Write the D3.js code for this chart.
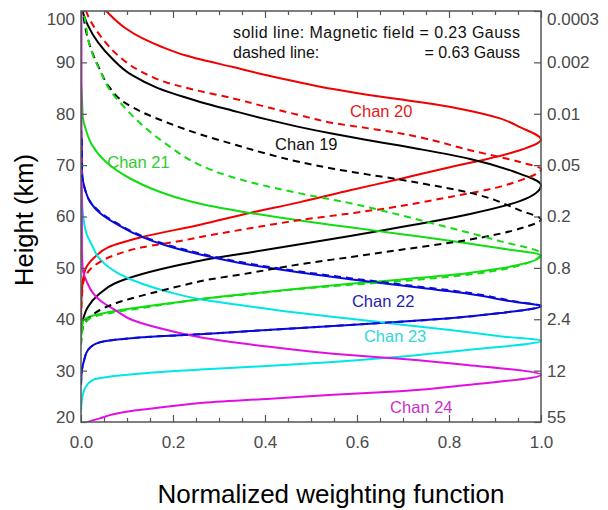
<!DOCTYPE html>
<html>
<head>
<meta charset="utf-8">
<script src="https://cdn.jsdelivr.net/npm/d3@7"></script>
<style>
  html, body { margin: 0; padding: 0; background: #fff; }
  svg { display: block; font-family: "Liberation Sans", Arial, Helvetica, sans-serif; }
</style>
</head>
<body>
<svg id="chart" width="608" height="510"></svg>
<script>
// Height axis (km) and the matching pressure labels on the right axis
const heightTicks = [20, 30, 40, 50, 60, 70, 80, 90, 100];
const pressureLabels = ["55", "12", "2.4", "0.8", "0.2", "0.05", "0.01", "0.002", "0.0003"];
const weightTicks = [0, 0.2, 0.4, 0.6, 0.8, 1.0];
const weightMinorTicks = [0.05, 0.1, 0.15, 0.25, 0.3, 0.35, 0.45, 0.5, 0.55, 0.65, 0.7, 0.75, 0.85, 0.9, 0.95];

// Weighting functions: [height km, normalized weight]
// solid = 0.23 Gauss, dashed = 0.63 Gauss
const chan20Solid = [[39.8,0],[45.7,0.002],[49.6,0.009],[52.1,0.030],[54.0,0.059],[56.0,0.133],[58.4,0.259],[60.7,0.367],[62.8,0.476],[65.1,0.585],[67.3,0.693],[69.6,0.802],[71.2,0.883],[72.9,0.954],[75.0,1.0],[77.4,0.954],[79.1,0.911],[80.7,0.839],[81.9,0.765],[82.8,0.693],[83.7,0.622],[84.8,0.548],[86.1,0.476],[87.5,0.404],[89.1,0.330],[90.6,0.259],[91.4,0.226],[93.0,0.176],[94.7,0.133],[96.7,0.096],[99.8,0.057],[102,0.035]];
const chan20Dashed = [[39.8,0],[46.7,0.004],[48.2,0.009],[50.5,0.030],[52.5,0.074],[54.0,0.133],[55.4,0.226],[56.0,0.259],[57.7,0.367],[59.3,0.476],[60.6,0.585],[62.0,0.693],[62.7,0.737],[63.8,0.802],[65.2,0.883],[67.0,0.954],[69.2,1.0],[70.6,0.954],[72.9,0.846],[75.4,0.737],[76.2,0.693],[77.2,0.622],[78.2,0.548],[79.7,0.476],[81.3,0.404],[83.0,0.330],[84.4,0.259],[86.0,0.189],[88.1,0.133],[91.4,0.080],[94.7,0.046],[98.2,0.020],[100,0.011],[102,0.006]];
const chan19Solid = [[36.9,0],[39.8,0.004],[42.4,0.015],[44.7,0.037],[47.0,0.074],[48.8,0.133],[50.8,0.226],[51.4,0.259],[53.0,0.367],[54.6,0.476],[56.2,0.585],[57.9,0.693],[58.6,0.737],[60.5,0.846],[63.0,0.954],[66.1,1.0],[68.8,0.939],[71.2,0.846],[73.1,0.737],[73.8,0.693],[74.9,0.622],[76.1,0.548],[77.4,0.476],[78.9,0.404],[80.6,0.330],[82.3,0.259],[83.2,0.226],[85.0,0.167],[87.5,0.111],[90.8,0.067],[93.9,0.037],[97.2,0.015],[100,0.003]];
const chan19Dashed = [[35.0,0],[38.5,0.004],[40.4,0.020],[41.8,0.041],[43.7,0.096],[45.1,0.154],[46.7,0.226],[47.4,0.259],[49.0,0.367],[50.7,0.476],[52.1,0.585],[53.5,0.693],[55.4,0.839],[57.8,0.960],[59.4,1.0],[61.2,0.954],[64.6,0.846],[66.5,0.737],[67.2,0.693],[68.2,0.622],[69.3,0.548],[70.6,0.476],[72.2,0.404],[74.1,0.330],[76.0,0.259],[78.3,0.187],[80.3,0.133],[82.1,0.096],[85.5,0.059],[88.6,0.041],[91.6,0.026],[94.6,0.015],[100,0.004]];
const chan21Solid = [[36.0,0],[39.5,0.004],[40.4,0.015],[40.8,0.030],[41.6,0.074],[42.4,0.133],[43.5,0.226],[43.9,0.259],[45.0,0.367],[46.0,0.476],[46.9,0.585],[47.7,0.693],[48.6,0.802],[49.9,0.911],[52.4,1.0],[53.8,0.911],[55.3,0.802],[56.6,0.693],[57.9,0.585],[59.2,0.476],[60.7,0.367],[62.5,0.259],[63.8,0.204],[65.4,0.154],[67.2,0.111],[70.8,0.052],[73.9,0.024],[76.8,0.011],[79.3,0.004],[83.2,0.002],[86.0,0]];
const chan21Dashed = [[35.0,0],[38.5,0.004],[40.2,0.020],[40.8,0.041],[41.4,0.074],[42.2,0.133],[43.5,0.226],[43.9,0.259],[44.9,0.367],[45.9,0.476],[46.7,0.585],[47.4,0.693],[48.3,0.802],[49.6,0.911],[52.8,1.0],[55.2,0.911],[57.8,0.802],[60.3,0.693],[62.6,0.585],[64.5,0.476],[66.7,0.367],[68.0,0.317],[70.0,0.259],[74.0,0.187],[77.8,0.133],[81.1,0.096],[84.6,0.063],[88.5,0.041],[91.4,0.026],[94.7,0.015],[98.2,0.009],[100,0.004]];
const chan22Solid = [[27.2,0],[30.1,0.002],[32.1,0.007],[34.0,0.015],[35.4,0.037],[36.0,0.074],[36.5,0.133],[37.1,0.259],[37.7,0.367],[38.3,0.476],[38.9,0.585],[39.5,0.693],[40.2,0.802],[41.2,0.911],[42.6,1.0],[43.3,0.948],[45.0,0.839],[46.6,0.693],[47.8,0.585],[49.1,0.476],[50.6,0.367],[52.6,0.259],[54.3,0.187],[55.4,0.150],[56.8,0.113],[58.5,0.078],[60.7,0.041],[62.8,0.020],[65.2,0.009],[69.0,0.002],[72.9,0.002],[76.8,0]];
const chan22Dashed = [[27.2,0],[30.1,0.002],[32.1,0.007],[34.0,0.015],[35.4,0.037],[36.0,0.074],[36.5,0.133],[37.1,0.259],[37.7,0.367],[38.3,0.476],[38.9,0.585],[39.5,0.693],[40.2,0.802],[41.2,0.911],[42.6,1.0],[43.4,0.948],[45.2,0.839],[46.8,0.693],[48.0,0.585],[49.3,0.476],[50.8,0.367],[52.8,0.259],[54.5,0.187],[55.6,0.150],[57.0,0.113],[58.7,0.078],[60.9,0.041],[62.9,0.020],[65.2,0.009],[69.0,0.002],[72.9,0.002],[76.8,0]];
const chan23Solid = [[21.9,0],[24.3,0.002],[26.6,0.009],[28.2,0.026],[29.0,0.078],[29.6,0.150],[30.2,0.259],[30.9,0.404],[31.7,0.548],[32.7,0.693],[34.0,0.839],[35.8,1.0],[36.7,0.911],[37.9,0.802],[39.0,0.693],[40.1,0.585],[41.2,0.476],[42.5,0.367],[43.9,0.259],[45.4,0.187],[46.9,0.133],[49.0,0.080],[51.7,0.041],[54.4,0.024],[56.4,0.013],[60.7,0.004],[63.2,0.002],[69.0,0]];
const chan24Solid = [[19.0,0.005],[20.0,0.015],[20.7,0.041],[21.5,0.070],[22.3,0.120],[22.9,0.180],[23.7,0.259],[24.5,0.404],[25.3,0.548],[26.0,0.693],[27.2,0.839],[29.2,1.0],[31.1,0.839],[32.3,0.693],[33.3,0.548],[34.7,0.404],[36.5,0.259],[37.9,0.187],[39.8,0.113],[41.6,0.078],[43.7,0.041],[45.1,0.026],[47.2,0.013],[49.6,0.004],[53.5,0.002],[57.4,0.002],[80,0.001],[100,0.001]];

// ---- drawing ----
const svg = d3.select("#chart");
svg.append("rect").attr("width", 608).attr("height", 510).attr("fill", "#fff");

const x = d3.scaleLinear().domain([0, 1]).range([81, 541]);
const y = d3.scaleLinear().domain([20, 100]).range([422, 11]);

const axisColor = "#555";
const labelColor = "#4a4a4a";

svg.append("clipPath").attr("id", "plotClip")
  .append("rect").attr("x", x(0)).attr("y", y(100))
  .attr("width", x(1) - x(0) + 1).attr("height", y(20) - y(100));

const series = [
  { data: chan20Solid, color: "#f00000", dashed: false },
  { data: chan19Solid, color: "#000000", dashed: false },
  { data: chan21Solid, color: "#10dd10", dashed: false },
  { data: chan22Solid, color: "#0a0ad8", dashed: false },
  { data: chan23Solid, color: "#00e6e6", dashed: false },
  { data: chan24Solid, color: "#e010e0", dashed: false },
  { data: chan20Dashed, color: "#f00000", dashed: true },
  { data: chan19Dashed, color: "#000000", dashed: true },
  { data: chan21Dashed, color: "#10dd10", dashed: true },
  { data: chan22Dashed, color: "#0a0ad8", dashed: true }
];

const line = d3.line()
  .x(d => x(d[1]))
  .y(d => y(d[0]))
  .curve(d3.curveMonotoneY);

const curves = svg.append("g").attr("clip-path", "url(#plotClip)");
curves.selectAll("path")
  .data(series)
  .join("path")
  .attr("d", d => line(d.data))
  .attr("fill", "none")
  .attr("stroke", d => d.color)
  .attr("stroke-width", 2)
  .attr("stroke-dasharray", d => d.dashed ? "7,5" : null);

// axes
function styleAxis(g) {
  g.select(".domain").remove();
  g.attr("font-family", null).attr("font-size", 17);
  g.selectAll(".tick line").attr("stroke", axisColor).attr("stroke-width", 1.2);
  g.selectAll(".tick text").attr("fill", labelColor);
}

svg.append("g").attr("transform", `translate(0,${y(20)})`)
  .call(d3.axisBottom(x).tickValues(weightTicks).tickSizeInner(-7).tickSizeOuter(0)
    .tickPadding(14).tickFormat(d3.format(".1f")))
  .call(styleAxis);
svg.append("g").attr("transform", `translate(0,${y(20)})`)
  .call(d3.axisBottom(x).tickValues(weightMinorTicks).tickSizeInner(-4).tickSizeOuter(0).tickFormat(""))
  .call(styleAxis);
svg.append("g").attr("transform", `translate(0,${y(100)})`)
  .call(d3.axisTop(x).tickValues(weightTicks).tickSizeInner(-7).tickSizeOuter(0).tickFormat(""))
  .call(styleAxis);
svg.append("g").attr("transform", `translate(0,${y(100)})`)
  .call(d3.axisTop(x).tickValues(weightMinorTicks).tickSizeInner(-4).tickSizeOuter(0).tickFormat(""))
  .call(styleAxis);

const endShift = d => d === 100 ? 8 : (d === 20 ? -4.5 : 0);

svg.append("g").attr("transform", `translate(${x(0)},0)`)
  .call(d3.axisLeft(y).tickValues(heightTicks).tickSizeInner(-6).tickSizeOuter(0).tickPadding(6))
  .call(styleAxis)
  .call(g => g.selectAll(".tick text").attr("y", endShift));

svg.append("g").attr("transform", `translate(${x(1)},0)`)
  .call(d3.axisRight(y).tickValues(heightTicks).tickSizeInner(-7).tickSizeOuter(0).tickPadding(6)
    .tickFormat((d, i) => pressureLabels[i]))
  .call(styleAxis)
  .call(g => g.selectAll(".tick text").attr("y", endShift));

// frame
svg.append("rect")
  .attr("x", x(0)).attr("y", y(100))
  .attr("width", x(1) - x(0)).attr("height", y(20) - y(100))
  .attr("fill", "none").attr("stroke", axisColor).attr("stroke-width", 1.5);

// channel labels
const chanLabels = [
  { text: "Chan 20", w: 0.585, h: 79.4, color: "#e02020" },
  { text: "Chan 19", w: 0.422, h: 72.9, color: "#111111" },
  { text: "Chan 21", w: 0.057, h: 69.4, color: "#30cc30" },
  { text: "Chan 22", w: 0.589, h: 42.4, color: "#2424b4" },
  { text: "Chan 23", w: 0.615, h: 35.6, color: "#30d8d8" },
  { text: "Chan 24", w: 0.672, h: 21.8, color: "#cc30cc" }
];
svg.append("g").selectAll("text")
  .data(chanLabels)
  .join("text")
  .attr("x", d => x(d.w))
  .attr("y", d => y(d.h))
  .attr("font-size", 16.5)
  .attr("fill", d => d.color)
  .text(d => d.text);

// field strength note
const note = svg.append("g").attr("font-size", 16).attr("fill", "#111");
note.append("text").attr("x", 233).attr("y", 38)
  .attr("textLength", 287).attr("lengthAdjust", "spacing")
  .text("solid line: Magnetic field = 0.23 Gauss");
note.append("text").attr("x", 233).attr("y", 58).text("dashed line:");
note.append("text").attr("x", 520).attr("y", 58).attr("text-anchor", "end").text("= 0.63 Gauss");

// axis titles
svg.append("text")
  .attr("x", 331).attr("y", 503)
  .attr("text-anchor", "middle").attr("font-size", 26).attr("fill", "#000")
  .text("Normalized weighting function");
svg.append("text")
  .attr("transform", "translate(33,220) rotate(-90)")
  .attr("text-anchor", "middle").attr("font-size", 25.5).attr("fill", "#000")
  .text("Height (km)");
</script>
</body>
</html>
